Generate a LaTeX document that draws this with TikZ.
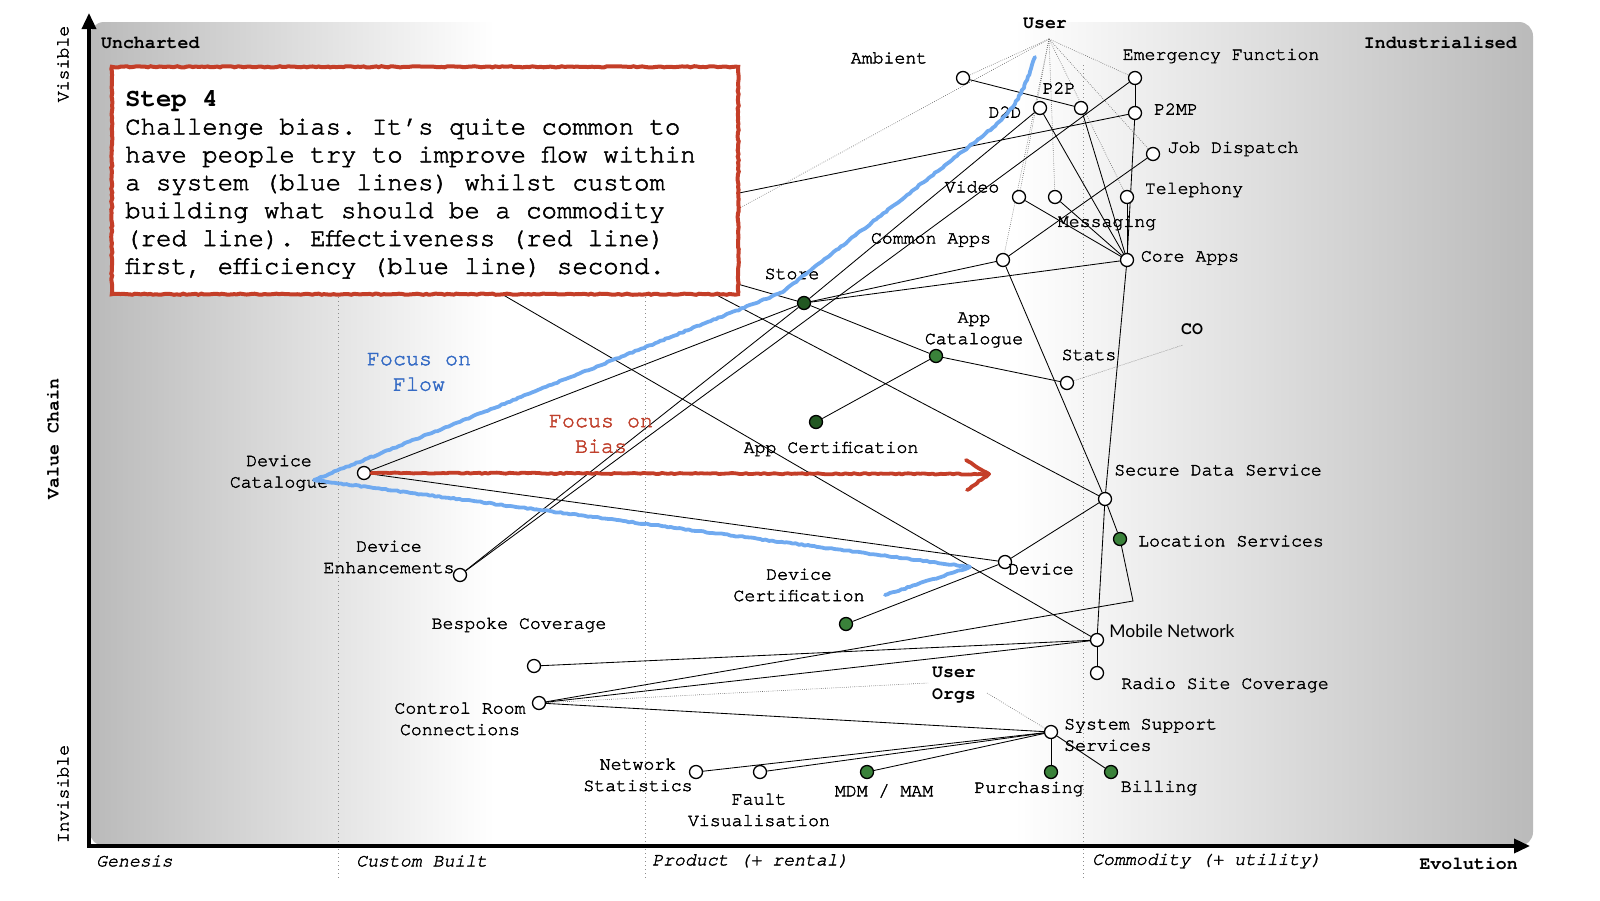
\documentclass[tikz,border=0pt]{standalone}
\usepackage{fontspec}
\setmainfont{texgyrecursor}[Extension=.otf,UprightFont=*-regular,BoldFont=*-bold,ItalicFont=*-italic,BoldItalicFont=*-bolditalic,UprightFeatures={FakeBold=2},ItalicFeatures={FakeBold=1.8}]
\newfontfamily\mnfont{Lato}
\usetikzlibrary{arrows.meta,decorations.pathmorphing}
\definecolor{bgray}{RGB}{186,186,186}
\definecolor{gdark}{RGB}{34,88,34}
\definecolor{glight}{RGB}{58,130,58}
\definecolor{blueline}{RGB}{112,170,240}
\definecolor{bluetext}{RGB}{52,106,196}
\definecolor{redline}{RGB}{196,62,40}
\definecolor{redtext}{RGB}{192,64,44}
\pgfdeclarehorizontalshading{wmshade}{100bp}{color(0bp)=(bgray); color(25bp)=(bgray); color(39bp)=(white); color(57bp)=(white); color(75bp)=(bgray); color(100bp)=(bgray)}
\pgfdeclarelayer{bg}\pgfdeclarelayer{edges}\pgfsetlayers{bg,edges,main}
\newcommand\lblfont{\fontsize{18.2}{21.4}\selectfont\frenchspacing}
\newcommand\notefont{\fontsize{25.7}{27.9}\selectfont\frenchspacing}
\newcommand\focfont{\fontsize{21.7}{25.5}\selectfont}
\tikzset{
 comp/.style={circle,draw=black,line width=1.3pt,fill=white,minimum size=13pt,inner sep=0pt},
 gcomp/.style={comp,fill=glight},
 gcompd/.style={comp,fill=gdark},
 lbl/.style={font=\lblfont,inner sep=0pt,align=center},
 blbl/.style={font=\lblfont\bfseries,inner sep=0pt,align=center},
 ilbl/.style={font=\lblfont\itshape,inner sep=0pt},
 notetext/.style={font=\notefont,inner sep=0pt,anchor=base west},
 link/.style={draw=black,line width=0.85pt},
 dep/.style={draw=black!60,line width=0.6pt,dash pattern=on 0.7pt off 1.4pt},
 stageline/.style={draw=black!45,line width=1pt,dash pattern=on 1pt off 3pt},
 rough/.style={decorate,decoration={random steps,segment length=3pt,amplitude=0.6pt}},
 stepbox/.style={fill=white,minimum width=626pt,minimum height=227pt,inner sep=0pt},
 flowline/.style={draw=blueline,line width=3.8pt,line cap=round,line join=round},
 biasline/.style={draw=redline,line width=3.8pt,line cap=round,line join=round},
}
\begin{document}
\begin{tikzpicture}[x=1pt,y=-1pt]
\useasboundingbox (0,0) rectangle (1600,900);
\begin{pgfonlayer}{bg}
\shade[shading=wmshade,rounded corners=14pt] (90,22) rectangle (1533,846);
\draw[stageline] (338,65) -- (338,880);
\draw[stageline] (645,65) -- (645,880);
\draw[stageline] (1083,65) -- (1083,880);
\draw[line width=3.5pt,{Triangle[length=16pt,width=14pt]}-{Triangle[length=16pt,width=14pt]}] (89,13) -- (89,846) -- (1530,846);
\end{pgfonlayer}

% components
\node[comp] (ambient) at (963,78) {};
\node[comp] (emerg) at (1135,78) {};
\node[comp] (ptp) at (1081,108) {};
\node[comp] (dtd) at (1040,108) {};
\node[comp] (ptmp) at (1135,113) {};
\node[comp] (jobd) at (1153,154) {};
\node[comp] (video) at (1019,197) {};
\node[comp] (msg) at (1055,197) {};
\node[comp] (tel) at (1127,197) {};
\node[comp] (capps) at (1003,260) {};
\node[comp] (core) at (1127,260) {};
\node[gcompd] (store) at (804,303) {};
\node[gcomp] (appcat) at (936,356) {};
\node[comp] (stats) at (1067,383) {};
\node[gcompd] (appcert) at (816,422) {};
\node[comp] (devcat) at (364,473) {};
\node[comp] (sds) at (1105,499) {};
\node[gcomp] (loc) at (1120,539) {};
\node[comp] (device) at (1005,562) {};
\node[comp] (devenh) at (460,575) {};
\node[gcomp] (devcert) at (846,624) {};
\node[comp] (bespoke) at (534,666) {};
\node[comp] (mobile) at (1097,640) {};
\node[comp] (radio) at (1097,673) {};
\node[comp] (ctrl) at (539,703) {};
\node[comp] (sss) at (1051,732) {};
\node[comp] (netstat) at (696,772) {};
\node[comp] (fault) at (760,772) {};
\node[gcomp] (mdm) at (867,772) {};
\node[gcomp] (purch) at (1051,772) {};
\node[gcomp] (bill) at (1111,772) {};

% labels
\node[blbl] (userL) at (1045,23) {User};
\node[lbl] (ambientL) at (889,58) {Ambient};
\node[lbl] (emergL) at (1221,56) {Emergency Function};
\node[lbl] (ptpL) at (1059,88) {P2P};
\node[lbl] (dtdL) at (1005,112) {D2D};
\node[lbl] (ptmpL) at (1176,109) {P2MP};
\node[lbl] (jobdL) at (1233,149) {Job Dispatch};
\node[lbl] (telL) at (1194,190) {Telephony};
\node[lbl] (videoL) at (972,187) {Video};
\node[lbl] (msgL) at (1107,223) {Messaging};
\node[lbl] (cappsL) at (931,240) {Common Apps};
\node[lbl] (coreL) at (1190,258) {Core Apps};
\node[lbl] (storeL) at (792,274) {Store};
\node[lbl] (appcatL) at (974,330) {App\\Catalogue};
\node[lbl] (statsL) at (1089,355) {Stats};
\node[blbl] (coL) at (1192,329) {CO};
\node[lbl] (appcertL) at (831,449) {App Certification};
\node[lbl] (devcatL) at (279,473) {Device\\Catalogue};
\node[lbl] (sdsL) at (1218,470) {Secure Data Service};
\node[lbl] (locL) at (1231,541) {Location Services};
\node[lbl] (deviceL) at (1041,569) {Device};
\node[lbl] (devenhL) at (389,557) {Device\\Enhancements};
\node[lbl] (devcertL) at (799,585) {Device\\Certification};
\node[lbl] (bespokeL) at (519,625) {Bespoke Coverage};
\node[lbl,font=\mnfont\fontsize{17.5}{20}\selectfont] (mobileL) at (1172,631) {Mobile Network};
\node[lbl] (radioL) at (1225,685) {Radio Site Coverage};
\node[lbl] (ctrlL) at (460,719) {Control Room\\Connections};
\node[blbl] (uorgL) at (954,685) {User\\Orgs};
\node[lbl,align=left,anchor=west] (sssL) at (1064,735) {System Support\\Services};
\node[lbl] (netstatL) at (638,775) {Network\\Statistics};
\node[lbl] (faultL) at (759,810) {Fault\\Visualisation};
\node[lbl] (mdmL) at (884,791) {MDM / MAM};
\node[lbl] (purchL) at (1029,789) {Purchasing};
\node[lbl] (billL) at (1159,788) {Billing};
\node[lbl,font=\focfont,text=bluetext] (flowL) at (419,372) {Focus on\\Flow};
\node[lbl,font=\focfont,text=redtext] (biasL) at (601,434) {Focus on\\Bias};

% axis texts
\node[blbl,anchor=west] (unch) at (101,43) {Uncharted};
\node[blbl,anchor=east] (indus) at (1517,43) {Industrialised};
\node[ilbl,anchor=west] (gen) at (96,861) {Genesis};
\node[ilbl,anchor=west] (cust) at (356,861) {Custom Built};
\node[ilbl,anchor=west] (prod) at (652,861) {Product (+ rental)};
\node[ilbl,anchor=west] (comm) at (1092,861) {Commodity (+ utility)};
\node[blbl,anchor=east] (evol) at (1518,864) {Evolution};
\node[lbl,rotate=90] (vis) at (63,64) {Visible};
\node[lbl,rotate=90] (invis) at (63,794) {Invisible};
\node[blbl,rotate=90] (vchain) at (53,439) {Value Chain};

% connector end points
\coordinate (uU) at (1049,39);
\coordinate (hA) at (650,211);
\coordinate (hB) at (650,259);
\coordinate (hC) at (650,260);
\coordinate (hD) at (450,264);
\coordinate (hE) at (650,257);
\coordinate (bend) at (1133,601);
\coordinate (coP) at (1183,345);
\coordinate (uoA) at (928,683);
\coordinate (uoB) at (987,693);
\coordinate (redtip) at (989,474);

\begin{pgfonlayer}{edges}
\draw[dep] (uU) -- (ambient);
\draw[dep] (uU) -- (hE);
\draw[dep] (uU) -- (video);
\draw[dep] (uU) -- (capps);
\draw[dep] (uU) -- (msg);
\draw[dep] (uU) -- (tel);
\draw[dep] (uU) -- (jobd);
\draw[dep] (uU) -- (emerg);
\draw[dep] (stats) -- (coP);
\draw[dep] (ctrl) -- (uoA);
\draw[dep] (uoB) -- (sss);
\draw[link] (ambient) -- (ptp);
\draw[link] (dtd) -- (core);
\draw[link] (ptp) -- (core);
\draw[link] (emerg) -- (ptmp);
\draw[link] (ptmp) -- (core);
\draw[link] (tel) -- (core);
\draw[link] (video) -- (core);
\draw[link] (msg) -- (core);
\draw[link] (jobd) -- (capps);
\draw[link] (emerg) -- (devenh);
\draw[link] (dtd) -- (store);
\draw[link] (store) -- (devenh);
\draw[link] (store) -- (devcat);
\draw[link] (store) -- (capps);
\draw[link] (store) -- (core);
\draw[link] (store) -- (appcat);
\draw[link] (appcat) -- (stats);
\draw[link] (appcat) -- (appcert);
\draw[link] (capps) -- (sds);
\draw[link] (core) -- (sds);
\draw[link] (sds) -- (mobile);
\draw[link] (sds) -- (loc);
\draw[link] (loc) -- (bend) -- (ctrl);
\draw[link] (device) -- (sds);
\draw[link] (device) -- (devcert);
\draw[link] (devcat) -- (device);
\draw[link] (bespoke) -- (mobile);
\draw[link] (ctrl) -- (mobile);
\draw[link] (mobile) -- (radio);
\draw[link] (ctrl) -- (sss);
\draw[link] (sss) -- (netstat);
\draw[link] (sss) -- (fault);
\draw[link] (sss) -- (mdm);
\draw[link] (sss) -- (purch);
\draw[link] (sss) -- (bill);
\draw[link] (hA) -- (ptmp);
\draw[link] (hB) -- (store);
\draw[link] (hC) -- (sds);
\draw[link] (hD) -- (mobile);
\end{pgfonlayer}

% note box
\node[stepbox] (note) at (425,180.5) {};
\draw[draw=redline,line width=4pt,rough] (note.north west) -- (note.north east) -- (note.south east) -- (note.south west) -- cycle;
\node[notetext] (t1) at (125,106.5) {\bfseries Step 4};
\node[notetext] (t2) at (125,134.4) {Challenge bias. It’s quite common to};
\node[notetext] (t3) at (125,162.3) {have people try to improve flow within};
\node[notetext] (t4) at (125,190.2) {a system (blue lines) whilst custom};
\node[notetext] (t5) at (125,218.1) {building what should be a commodity};
\node[notetext] (t6) at (125,246) {(red line). Effectiveness (red line)};
\node[notetext] (t7) at (125,273.9) {first, efficiency (blue line) second.};

% flow and bias strokes
\draw[flowline,rough] (1035,57) .. controls (1022,98) and (1012,112) .. (985,134) -- (783,292) -- (314,480) -- (970,567) -- (885,595);
\draw[biasline,rough] (devcat.east) -- (redtip);
\draw[biasline,rough] (966,460) -- (redtip) -- (967,490);
\end{tikzpicture}
\end{document}
